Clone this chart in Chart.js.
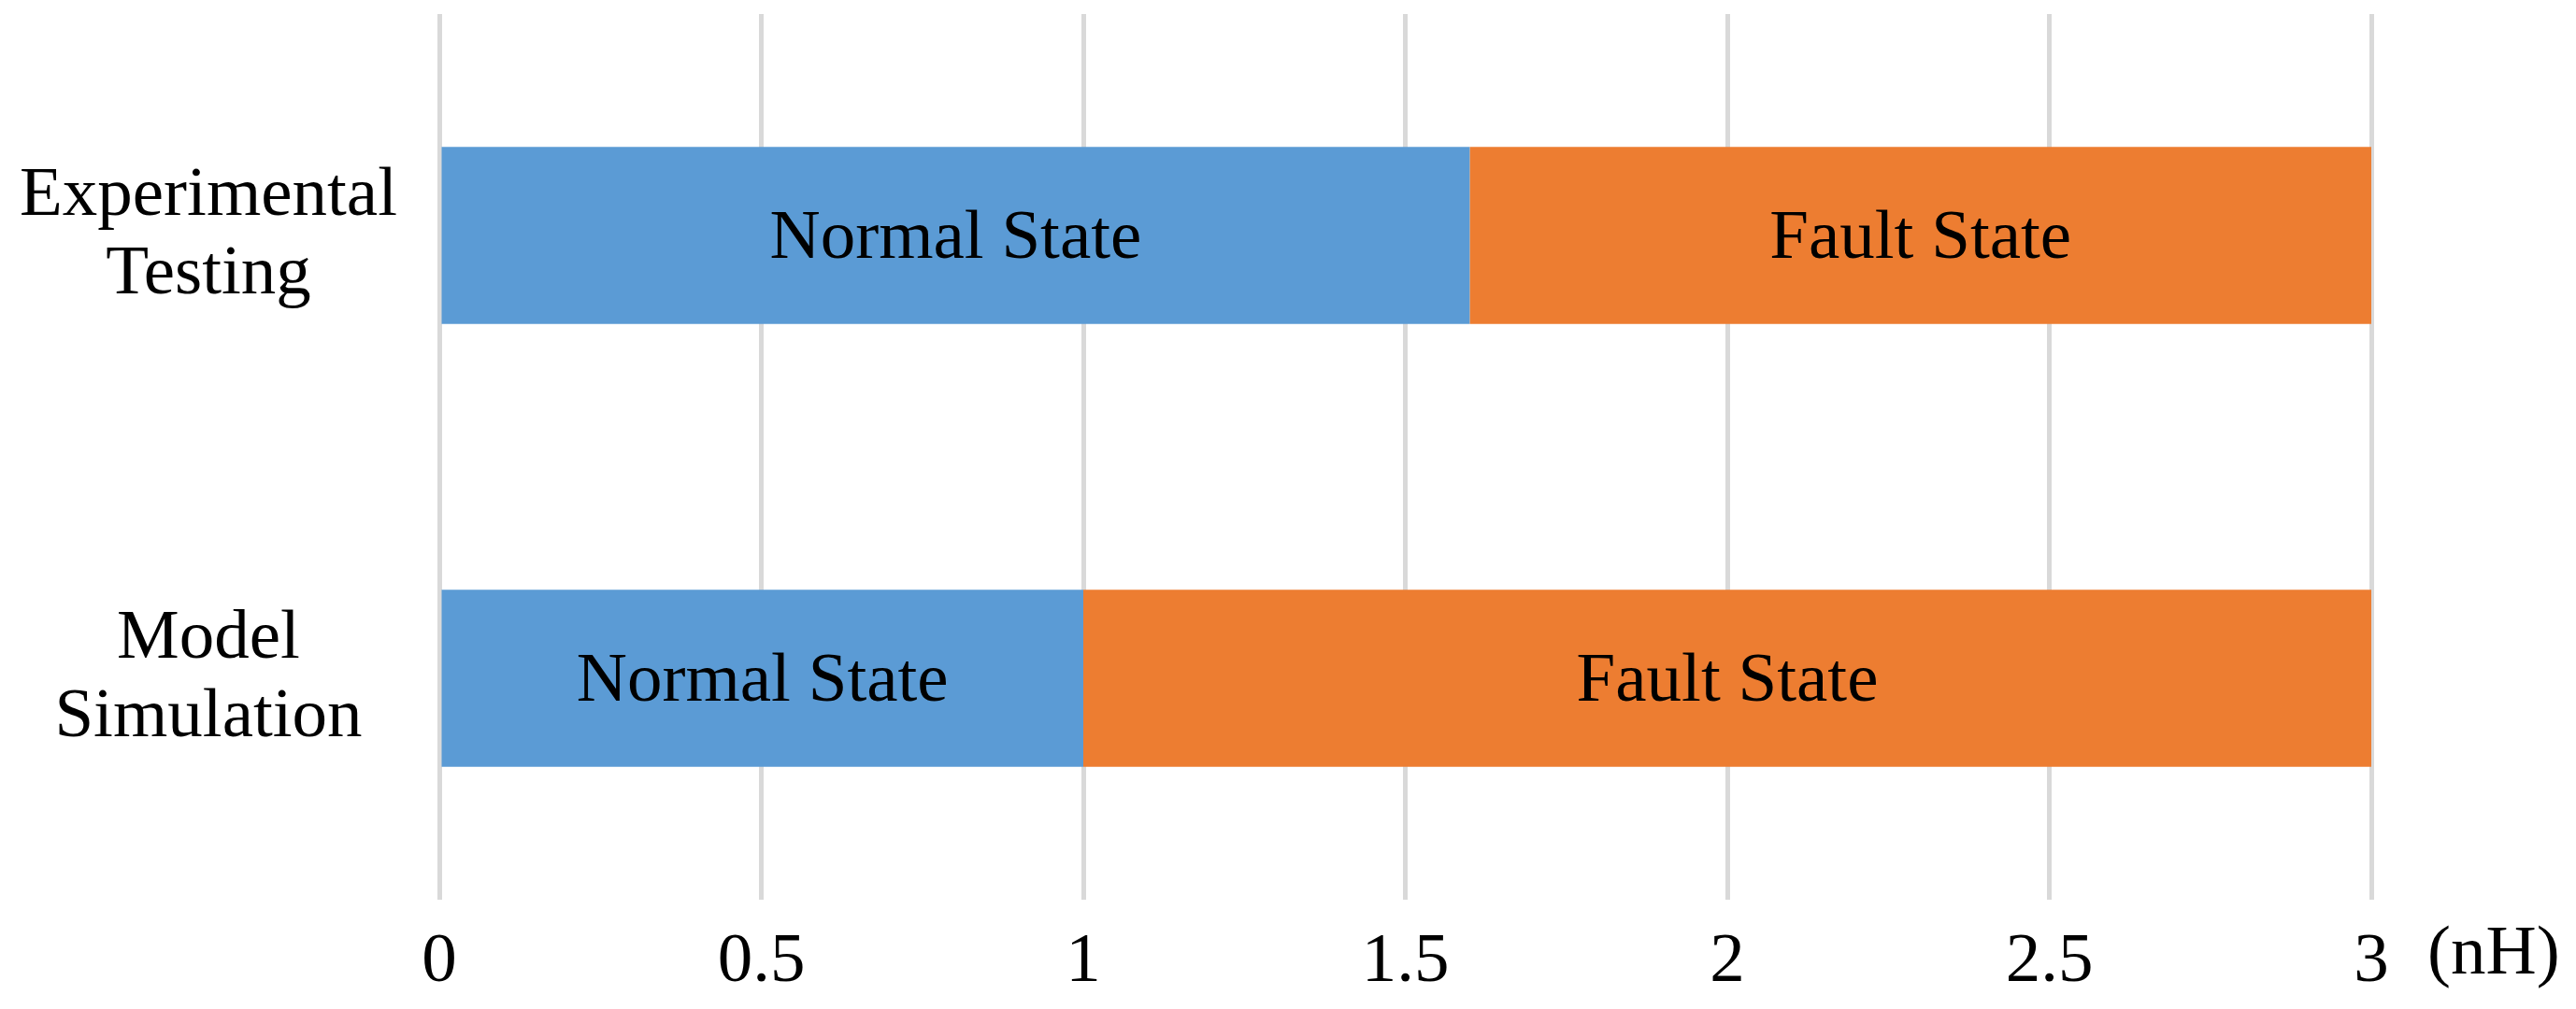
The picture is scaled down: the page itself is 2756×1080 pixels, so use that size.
<!DOCTYPE html>
<html>
<head>
<meta charset="utf-8">
<script src="https://cdn.jsdelivr.net/npm/chart.js@4"></script>
<style>
  html, body { margin: 0; padding: 0; background: #fff; }
  #wrap { width: 2756px; height: 1080px; }
</style>
</head>
<body>
<div id="wrap"><canvas id="chart"></canvas></div>
<script>
// categories and series
const categories = [['Experimental', 'Testing'], ['Model', 'Simulation']];
const normalState = [1.6, 1.0];
const faultState = [1.4, 2.0];
const xTicks = [0, 0.5, 1, 1.5, 2, 2.5, 3];
const unitLabel = '(nH)';

const serif = "'Liberation Serif', 'Times New Roman', serif";

// labels written in the middle of each bar segment
const barText = {
    id: 'barText',
    afterDatasetsDraw(chart) {
        const ctx = chart.ctx;
        ctx.save();
        ctx.font = `75px ${serif}`;
        ctx.fillStyle = '#000';
        ctx.textAlign = 'center';
        ctx.textBaseline = 'middle';
        chart.data.datasets.forEach((ds, i) => {
            chart.getDatasetMeta(i).data.forEach(bar => {
                const p = bar.getProps(['x', 'y', 'base'], true);
                ctx.fillText(ds.label, (p.x + p.base) / 2, p.y + 4);
            });
        });
        ctx.restore();
    }
};

// unit text next to the last tick
const unitText = {
    id: 'unitText',
    afterDraw(chart) {
        const x = chart.scales.x;
        const ctx = chart.ctx;
        ctx.save();
        ctx.font = `75px ${serif}`;
        ctx.fillStyle = '#000';
        ctx.textAlign = 'left';
        ctx.textBaseline = 'middle';
        ctx.fillText(unitLabel, x.getPixelForValue(3) + 60, 1022);
        ctx.restore();
    }
};

new Chart(document.getElementById('chart'), {
    type: 'bar',
    data: {
        labels: categories,
        datasets: [
            { label: 'Normal State', data: normalState, backgroundColor: '#5B9BD5', borderWidth: 0 },
            { label: 'Fault State', data: faultState, backgroundColor: '#ED7D31', borderWidth: 0 }
        ]
    },
    options: {
        indexAxis: 'y',
        responsive: true,
        maintainAspectRatio: false,
        animation: false,
        layout: { padding: { left: 0, right: 219, top: 15, bottom: 0 } },
        datasets: { bar: { barPercentage: 0.4, categoryPercentage: 1.0 } },
        scales: {
            x: {
                stacked: true,
                min: 0,
                max: 3,
                afterBuildTicks: (scale) => { scale.ticks = xTicks.map(v => ({ value: v })); },
                border: { display: false },
                grid: { color: '#d9d9d9', lineWidth: 5, drawTicks: false },
                ticks: {
                    color: '#000',
                    font: { family: serif, size: 75 },
                    padding: 22,
                    maxRotation: 0,
                    autoSkip: false,
                    callback: (v) => String(v)
                },
                afterFit: (scale) => { scale.height = 117; }
            },
            y: {
                stacked: true,
                border: { display: false },
                grid: { display: false },
                ticks: {
                    color: '#000',
                    crossAlign: 'center',
                    font: { family: serif, size: 75, lineHeight: 1.12 },
                    padding: 37
                },
                afterFit: (scale) => {
                    scale.width = 470;
                    scale.paddingTop = 0;
                    scale.paddingBottom = 0;
                }
            }
        },
        plugins: {
            legend: { display: false },
            tooltip: { enabled: false }
        }
    },
    plugins: [barText, unitText]
});
</script>
</body>
</html>
